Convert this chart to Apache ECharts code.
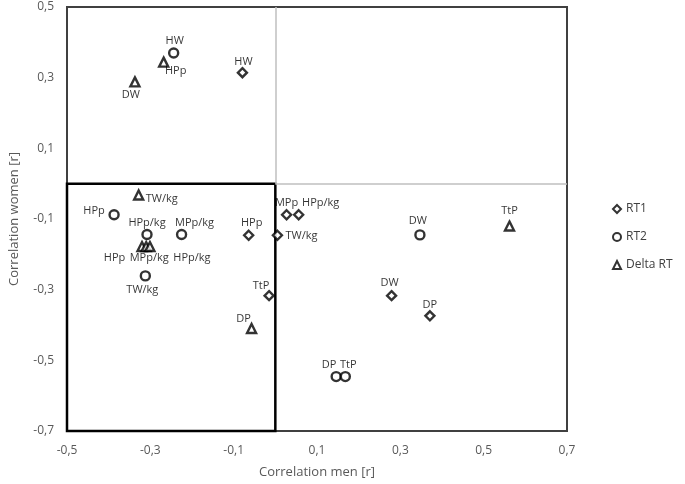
<!DOCTYPE html>
<html>
<head>
<meta charset="utf-8">
<script src="https://cdn.jsdelivr.net/npm/echarts@6/dist/echarts.min.js"></script>
<style>
html,body{margin:0;padding:0;background:#fff;}
#chart{width:685px;height:484px;}
</style>
</head>
<body>
<div id="chart"></div>
<script>
// ---- data ----
const seriesNames = ['RT1', 'RT2', 'Delta RT'];

const rt1Labels = ['HW', 'HPp', 'TtP', 'MPp', 'HPp/kg', 'TW/kg', 'DW', 'DP'];
const rt1Men    = [-0.079, -0.064, -0.015, 0.027, 0.056, 0.005, 0.279, 0.371];
const rt1Women  = [0.314, -0.146, -0.317, -0.088, -0.088, -0.146, -0.317, -0.374];

const rt2Labels = ['HW', 'HPp', 'HPp/kg', 'MPp/kg', 'TW/kg', 'DW', 'DP', 'TtP'];
const rt2Men    = [-0.244, -0.387, -0.308, -0.225, -0.312, 0.347, 0.146, 0.168];
const rt2Women  = [0.370, -0.088, -0.144, -0.144, -0.261, -0.145, -0.546, -0.546];

const dRtLabels = ['DW', 'HPp', 'TW/kg', 'HPp', 'MPp/kg', 'HPp/kg', 'DP', 'TtP'];
const dRtMen    = [-0.337, -0.268, -0.328, -0.320, -0.310, -0.301, -0.057, 0.562];
const dRtWomen  = [0.288, 0.344, -0.032, -0.178, -0.178, -0.178, -0.410, -0.120];

const xTicks = [-0.5, -0.3, -0.1, 0.1, 0.3, 0.5, 0.7];
const yTicks = [-0.7, -0.5, -0.3, -0.1, 0.1, 0.3, 0.5];

// ---- label placement (styling, pixel offsets from marker centre) ----
const rt1Offsets = [[1,-11],[3,-12.5],[-8,-10],[0,-11.5],[22,-11.5],[24,1],[-2,-13],[0,-11]];
const rt2Offsets = [[1,-12],[-20,-4],[0,-12],[13,-12],[-3,14],[-2,-14],[-7,-12],[3,-12]];
const dRtOffsets = [[-4,13],[12,9],[23,4],[-27.5,11],[3,11],[42,11],[-8,-10],[0,-15]];

const fontFam = "'Open Sans', 'Liberation Sans', Arial, sans-serif";
const fmt = v => Number(v).toFixed(1).replace('.', ',');

function build(labels, xs, ys, offsets) {
  return labels.map((n, i) => ({
    name: n,
    value: [xs[i], ys[i]],
    label: { offset: offsets[i] }
  }));
}

const markerStyle = { color: '#ffffff', borderColor: '#000000', borderWidth: 2.4 };
const labelBase = {
  show: true, position: 'inside', formatter: '{b}',
  color: '#000', fontSize: 11, fontFamily: fontFam
};

const chart = echarts.init(document.getElementById('chart'), null, {renderer: 'canvas'});
chart.setOption({
  animation: false,
  backgroundColor: '#ffffff',
  textStyle: { fontFamily: fontFam },
  grid: {
    left: 62, top: 7, right: 118, bottom: 45,
    show: true, borderColor: '#404040', borderWidth: 2, backgroundColor: 'transparent'
  },
  legend: {
    orient: 'vertical', left: 607, top: 198,
    itemWidth: 8, itemHeight: 8, itemGap: 16,
    textStyle: { fontSize: 12, color: '#404040', fontFamily: fontFam },
    data: seriesNames
  },
  xAxis: {
    type: 'value', min: xTicks[0], max: xTicks[xTicks.length - 1], interval: 0.2,
    name: 'Correlation men [r]', nameLocation: 'middle', nameGap: 35,
    nameTextStyle: { fontSize: 13, color: '#595959', fontFamily: fontFam },
    axisLine: { show: false }, axisTick: { show: false }, splitLine: { show: false },
    axisLabel: { formatter: fmt, fontSize: 12, color: '#595959', margin: 14, fontFamily: fontFam }
  },
  yAxis: {
    type: 'value', min: yTicks[0], max: yTicks[yTicks.length - 1], interval: 0.2,
    name: 'Correlation women [r]', nameLocation: 'middle', nameGap: 46,
    nameTextStyle: { fontSize: 13, color: '#595959', fontFamily: fontFam },
    axisLine: { show: false }, axisTick: { show: false }, splitLine: { show: false },
    axisLabel: { formatter: fmt, fontSize: 12, color: '#595959', margin: 13, fontFamily: fontFam }
  },
  series: [
    {
      name: seriesNames[0], type: 'scatter', symbol: 'diamond', symbolSize: 9, z: 5,
      itemStyle: markerStyle, label: labelBase,
      data: build(rt1Labels, rt1Men, rt1Women, rt1Offsets),
      markLine: {
        silent: true, symbol: 'none', z: 1,
        lineStyle: { color: '#bfbfbf', width: 1.5, type: 'solid' },
        label: { show: false },
        data: [
          [{ coord: [0, 0] }, { coord: [0, yTicks[yTicks.length - 1]] }],
          [{ coord: [0, 0] }, { coord: [xTicks[xTicks.length - 1], 0] }]
        ]
      }
    },
    {
      name: seriesNames[1], type: 'scatter', symbol: 'circle', symbolSize: 9, z: 5,
      itemStyle: markerStyle, label: labelBase,
      data: build(rt2Labels, rt2Men, rt2Women, rt2Offsets),
      markArea: {
        silent: true,
        itemStyle: { color: 'rgba(0,0,0,0)', borderColor: '#000', borderWidth: 2.5 },
        data: [[{ coord: [xTicks[0], 0] }, { coord: [0, yTicks[0]] }]]
      }
    },
    {
      name: seriesNames[2], type: 'scatter', symbol: 'triangle', symbolSize: 9, z: 5,
      itemStyle: markerStyle, label: labelBase,
      data: build(dRtLabels, dRtMen, dRtWomen, dRtOffsets)
    }
  ]
});
</script>
</body>
</html>
